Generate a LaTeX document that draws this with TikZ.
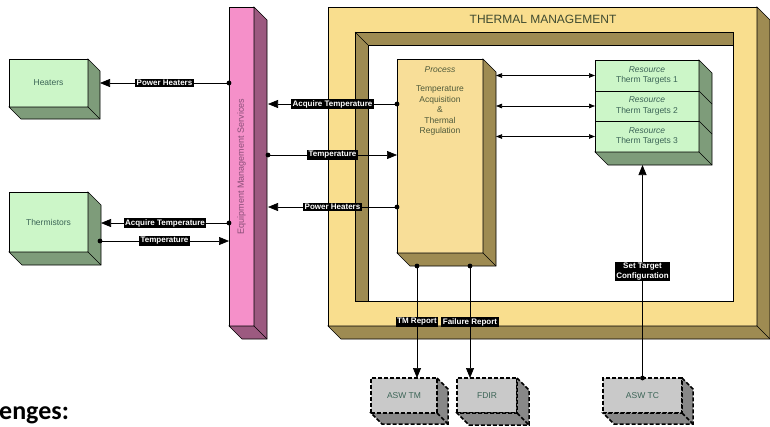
\documentclass[tikz,border=0pt]{standalone}
\usepackage{fontspec}
\setmainfont{Liberation Sans}
\newfontfamily\headfont{Carlito}
\usetikzlibrary{arrows.meta,calc}

\definecolor{greenF}{HTML}{CCF6C8}
\definecolor{greenS}{HTML}{7E9C7A}
\definecolor{pinkF}{HTML}{F590C9}
\definecolor{pinkS}{HTML}{9C5A80}
\definecolor{yellF}{HTML}{F9DE8E}
\definecolor{yellS}{HTML}{9E8B52}
\definecolor{procF}{HTML}{F8DE98}
\definecolor{grayF}{HTML}{C9C9C9}
\definecolor{grayS}{HTML}{888888}
\definecolor{boxtxt}{HTML}{3B6456}
\definecolor{proctxt}{HTML}{4F5A3A}
\definecolor{emstxt}{HTML}{8A4E78}
\definecolor{titletxt}{HTML}{3E4A30}

% side and bottom faces of an extruded box: name, depth, fill, extra style
\newcommand\boxdepth[4]{%
  \filldraw[fill=#3,#4] (#1.north east) -- ++(#2,#2)
    -- ($(#1.south east)+(#2,#2)$) -- ($(#1.south west)+(#2,#2)$)
    -- (#1.south west) -- (#1.south east) -- cycle;
  \draw[#4] (#1.south east) -- ++(#2,#2);
}

\tikzset{
  face/.style={draw, line width=0.6pt, inner sep=0pt, outer sep=0pt, anchor=north west},
  greenbox/.style={face, fill=greenF, text=boxtxt, font=\fontsize{8.5}{10.5}\selectfont, align=center},
  graybox/.style={face, fill=grayF, text=boxtxt, font=\fontsize{8.5}{10.5}\selectfont,
    line width=1.5pt, dash pattern=on 4pt off 2pt},
  graydash/.style={line width=1.5pt, dash pattern=on 4pt off 2pt},
  conn/.style={line width=0.7pt, -{Triangle[length=10pt,width=8pt]}},
  biconn/.style={line width=0.7pt, {Triangle[length=6pt,width=4.5pt]}-{Triangle[length=6pt,width=4.5pt]}},
  lbl/.style={fill=black, text=white, font=\bfseries\fontsize{8}{9.5}\selectfont,
    inner xsep=1.5pt, inner ysep=1pt, align=center},
  dot/.style={fill=black}
}

\begin{document}
\begin{tikzpicture}[x=1pt, y=-1pt, line join=miter]
\useasboundingbox (0,0) rectangle (770,426);

% ---------- thermal management frame ----------
\node[face, fill=yellF, minimum width=429, minimum height=319] (tm) at (328,7) {};
\boxdepth{tm}{13}{yellS}{line width=0.6pt}
\fill[white] (355,32) rectangle (733,301);
\filldraw[fill=yellS, line width=0.6pt] (355,32) -- (733,32) -- (733,45) -- (368,45) -- (368,301) -- (355,301) -- cycle;
\draw[line width=0.6pt] (355,32) rectangle (733,301);
\draw[line width=0.6pt] (355,32) -- (368,45);
\node[text=titletxt, font=\fontsize{12}{14}\selectfont] (tmtitle) at (543,19) {THERMAL MANAGEMENT};

% ---------- equipment management services ----------
\node[face, fill=pinkF, minimum width=25, minimum height=319] (ems) at (229,7) {};
\boxdepth{ems}{13}{pinkS}{line width=0.6pt}
\node[rotate=90, text=emstxt, font=\fontsize{9}{10}\selectfont] (emstext) at (ems.center) {Equipment Management Services};

% ---------- hardware ----------
\node[greenbox, minimum width=79, minimum height=48] (heat) at (9,59) {Heaters};
\boxdepth{heat}{12}{greenS}{line width=0.6pt}
\node[greenbox, minimum width=79, minimum height=60] (therm) at (9,192) {Thermistors};
\boxdepth{therm}{13}{greenS}{line width=0.6pt}

% ---------- process ----------
\node[face, fill=procF, minimum width=86, minimum height=194] (proc) at (397,59) {};
\boxdepth{proc}{13}{yellS}{line width=0.6pt}
\node[anchor=north, text=proctxt, font=\fontsize{8.5}{10.5}\selectfont, align=center, inner sep=0pt]
  (proctext) at ($(proc.north)+(0,7)$)
  {\itshape Process\\[9pt]Temperature\\Acquisition\\\&\\Thermal\\Regulation};

% ---------- resources ----------
\node[greenbox, minimum width=104, minimum height=31] (res1) at (595,60) {\itshape Resource\\Therm Targets 1};
\node[greenbox, minimum width=104, minimum height=30] (res2) at (595,91) {\itshape Resource\\Therm Targets 2};
\node[greenbox, minimum width=104, minimum height=31] (res3) at (595,121) {\itshape Resource\\Therm Targets 3};
\filldraw[fill=greenS, line width=0.6pt] (res1.north east) -- ++(13,13)
  -- ($(res3.south east)+(13,13)$) -- ($(res3.south west)+(13,13)$)
  -- (res3.south west) -- (res3.south east) -- cycle;
\draw[line width=0.6pt] (res1.south east) -- ++(13,13);
\draw[line width=0.6pt] (res2.south east) -- ++(13,13);
\draw[line width=0.6pt] (res3.south east) -- ++(13,13);

% ---------- external software ----------
\node[graybox, minimum width=66, minimum height=35] (aswtm) at (371,378) {ASW TM};
\boxdepth{aswtm}{11}{grayS}{graydash}
\node[graybox, minimum width=60, minimum height=35] (fdir) at (457,378) {FDIR};
\boxdepth{fdir}{12}{grayS}{graydash}
\node[graybox, minimum width=79, minimum height=35] (aswtc) at (603,378) {ASW TC};
\boxdepth{aswtc}{11}{grayS}{graydash}

% ---------- connectors: EMS <-> hardware ----------
\coordinate (heatside) at ($(heat.east)+(12,0)$);
\draw[conn] (ems.west |- heat.center) -- node[lbl] {Power Heaters} (heatside);
\fill[dot] (ems.west |- heat.center) circle (2.4);

\coordinate (thside1) at ($(therm.east)+(13,1)$);
\draw[conn] (ems.west |- thside1) -- node[lbl] {Acquire Temperature} (thside1);
\fill[dot] (ems.west |- thside1) circle (2.4);

\coordinate (thside2) at ($(therm.east)+(12,19)$);
\draw[conn] (thside2) -- node[lbl] {Temperature} (ems.west |- thside2);
\fill[dot] (thside2) circle (2.4);

% ---------- connectors: EMS <-> process ----------
\coordinate (emsside) at ($(ems.east)+(14,0)$);
\coordinate (pl1) at ($(proc.north west)+(0,45)$);
\coordinate (pl2) at ($(proc.north west)+(0,96)$);
\coordinate (pl3) at ($(proc.north west)+(0,148)$);
\draw[conn] (pl1) -- node[lbl] {Acquire Temperature} (emsside |- pl1);
\fill[dot] (pl1) circle (2.4);
\draw[conn] (emsside |- pl2) -- node[lbl] {Temperature} (pl2);
\fill[dot] (emsside |- pl2) circle (2.4);
\draw[conn] (pl3) -- node[lbl] {Power Heaters} (emsside |- pl3);
\fill[dot] (pl3) circle (2.4);

% ---------- connectors: process <-> resources ----------
\coordinate (procside) at ($(proc.east)+(13,0)$);
\draw[biconn] (procside |- res1.west) -- (res1.west);
\draw[biconn] (procside |- res2.west) -- (res2.west);
\draw[biconn] (procside |- res3.west) -- (res3.west);

% ---------- connectors: reports and telecommands ----------
\coordinate (pb1) at ($(proc.south west)+(20,13)$);
\coordinate (pb2) at ($(proc.south west)+(73,13)$);
\draw[conn] (pb1) -- node[lbl] {TM Report} (pb1 |- aswtm.north);
\fill[dot] (pb1) circle (2.4);
\draw[conn] (pb2) -- node[lbl] {Failure Report} (pb2 |- fdir.north);
\fill[dot] (pb2) circle (2.4);
\coordinate (resbottom) at ($(res3.south)+(0,13)$);
\draw[conn] (aswtc.north) -- node[lbl] {Set Target\\Configuration} (aswtc.north |- resbottom);
\fill[dot] (aswtc.north) circle (2.4);

% ---------- caption fragment ----------
\node[anchor=base west, inner sep=0pt, font=\headfont\bfseries\fontsize{26}{30}\selectfont] (cap) at (-1,419.5) {enges:};
\end{tikzpicture}
\end{document}
